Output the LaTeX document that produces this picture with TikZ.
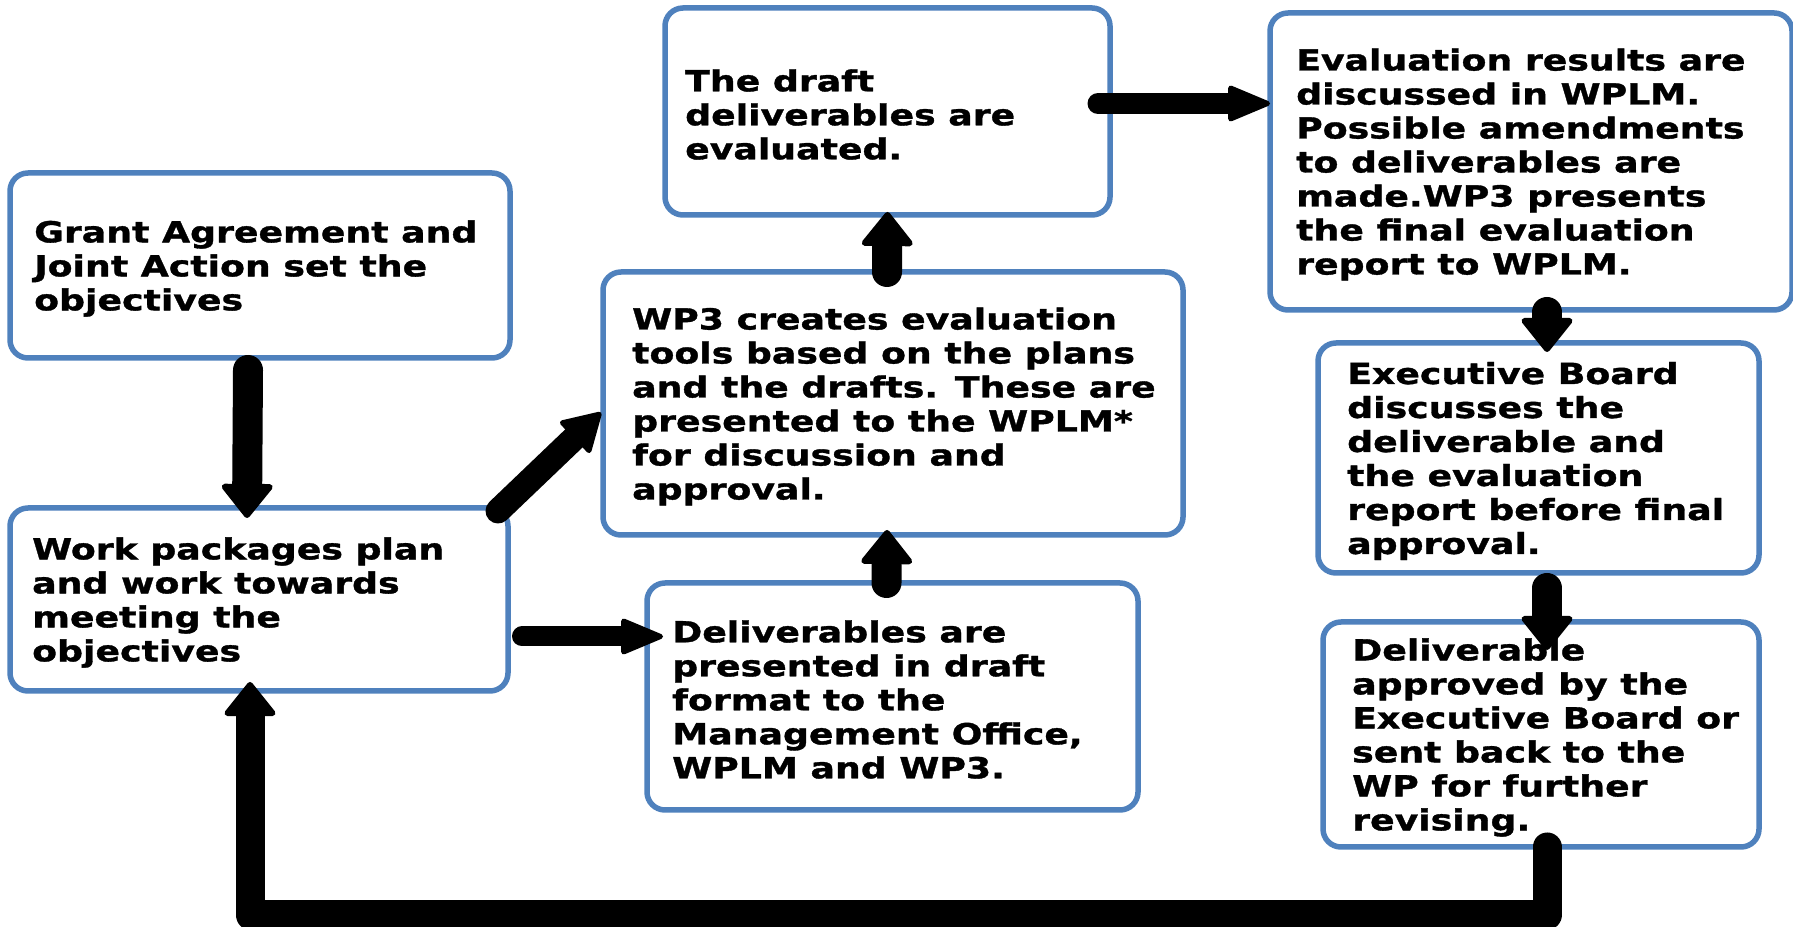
\documentclass[tikz,border=0pt]{standalone}
\usepackage{fontspec}
\newfontfamily\flowfont{DejaVu Sans}[FakeStretch=1.25, FakeBold=1.2]
\usetikzlibrary{calc, positioning, arrows.meta}
\definecolor{boxblue}{RGB}{79,129,189}
\tikzset{
 box/.style={draw=boxblue, line width=5.5pt, rounded corners=18pt, fill=white, outer sep=0pt},
 txt/.style={align=left, inner sep=0pt, yshift=-3pt, font=\flowfont\bfseries\fontsize{29pt}{34pt}\selectfont},
 vflow/.style={line width=30pt, line cap=round, -{Triangle[length=36pt, width=56pt, round, line width=6pt]}},
 hflow/.style={line width=21pt, line cap=round, -{Triangle[length=46pt, width=37pt, round, line width=5pt]}},
}
\begin{document}
\begin{tikzpicture}[x=1pt, y=1pt]
 \useasboundingbox (0,0) rectangle (1793,926);
 \coordinate (G) at (260, 660.5);
 \coordinate (W) at (259, 326.5);
 \coordinate (T) at (893, 522.5);
 \coordinate (D) at (892.5, 229.5);
 \coordinate (R) at (887.5, 814.5);
 \coordinate (E) at (1531, 764.5);
 \coordinate (X) at (1538.5, 468);
 \coordinate (P) at (1541, 191.5);

 %ボックスと文
 \node[box, minimum width=500pt, minimum height=185pt] (grant) at (G) {};
 \node[txt, right=24pt of grant.west] (grant text) {Grant Agreement and\\Joint Action set the\\objectives};
 \node[box, minimum width=498pt, minimum height=183pt] (work) at (W) {};
 \node[txt, right=22pt of work.west] (work text) {Work packages plan\\and work towards\\meeting the\\objectives};
 \node[box, minimum width=580pt, minimum height=263pt] (tools) at (T) {};
 \node[txt, right=29pt of tools.west] (tools text) {WP3 creates evaluation\\tools based on the plans\\and the drafts. These are\\presented to the WPLM*\\for discussion and\\approval.};
 \node[box, minimum width=491pt, minimum height=227pt] (deliv) at (D) {};
 \node[txt, right=25pt of deliv.west] (deliv text) {Deliverables are\\presented in draft\\format to the\\Management Office,\\WPLM and WP3.};
 \node[box, minimum width=445pt, minimum height=207pt] (draft) at (R) {};
 \node[txt, right=20pt of draft.west] (draft text) {The draft\\deliverables are\\evaluated.};
 \node[box, minimum width=522pt, minimum height=297pt] (eval) at (E) {};
 \node[txt, right=26pt of eval.west] (eval text) {Evaluation results are\\discussed in WPLM.\\Possible amendments\\to deliverables are\\made.WP3 presents\\the final evaluation\\report to WPLM.};
 \node[box, minimum width=441pt, minimum height=230pt] (exec) at (X) {};
 \node[txt, right=29pt of exec.west] (exec text) {Executive Board\\discusses the\\deliverable and\\the evaluation\\report before final\\approval.};
 \node[box, minimum width=436pt, minimum height=225pt] (approve) at (P) {};
 \node[txt, right=29pt of approve.west] (approve text) {Deliverable\\approved by the\\Executive Board or\\sent back to the\\WP for further\\revising.};

 %矢印
 \draw[vflow] ($(grant.south)+(-12,-12)$) -- ($(work.north)+(-12,-10)$);
 \draw[line width=25pt, line cap=round, -{Triangle[length=40pt, width=46pt, round, line width=5pt]}]
 ($(work.north east)+(-10,-3)$) -- ($(tools.west)+(-2,-9)$);
 \draw[hflow, line width=20pt] ($(work.east)+(14,-37)$) -- ($(work.east -| deliv.west)+(16,-37)$);
 \draw[vflow] ($(deliv.north)+(-6,0)$) -- ($(tools.south)+(-6,5)$);
 \draw[vflow] ($(tools.north)+(-6,0)$) -- ($(draft.south)+(0,3)$);
 \draw[hflow] ($(draft.east)+(-12,8)$) -- ($(draft.east -| eval.west)+(0,8)$);
 \draw[vflow] ($(eval.south)+(16,-2)$) -- ($(exec.north)+(8.5,-9)$);
 \draw[vflow] ($(exec.south)+(8.5,-15)$) -- ($(approve.north)+(6,-28)$);
 %差し戻し
 \draw[vflow, line width=29pt, line join=round] ($(approve.south)+(6,0)$) -- ++(0,-68) -| ($(work.south)+(-9,9)$);
\end{tikzpicture}
\end{document}
